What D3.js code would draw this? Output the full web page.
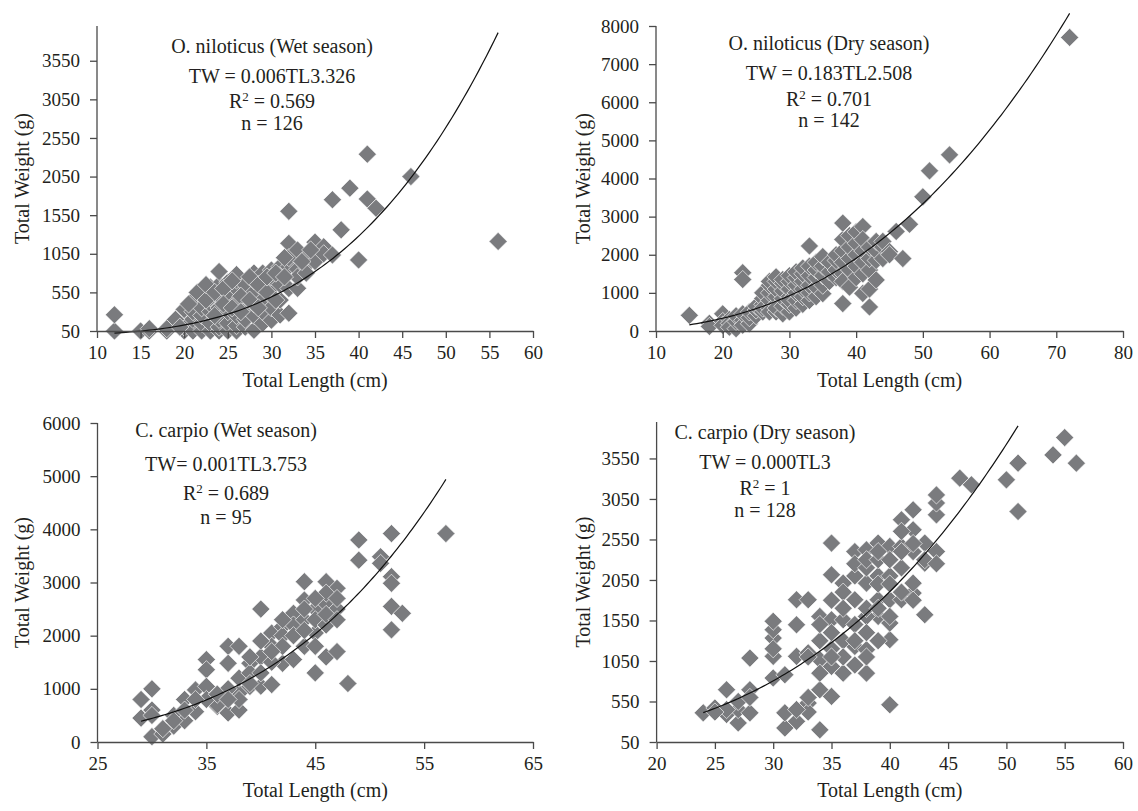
<!DOCTYPE html>
<html>
<head>
<meta charset="utf-8">
<script src="https://cdn.jsdelivr.net/npm/d3@7"></script>
<style>
  body { margin: 0; background: #fff; }
  text { font-family: "Liberation Serif", "Times New Roman", serif; fill: #231f20; }
</style>
</head>
<body>
<div id="chart"></div>
<script>
// Data: [total length (cm), total weight (g)]
var niloWet = [
  [12,50],[12,260],[15,50],[16,50],[16,80],[18,50],[18,80],
  [20,50],[20,150],[20,330],[20,100],
  [21,50],[21,200],[21,400],[21,450],[21,300],
  [22,50],[22,150],[22,250],[22,500],[22,580],[22,350],
  [23,50],[23,150],[23,300],[23,400],[23,480],[23,620],
  [24,50],[24,100],[24,200],[24,350],[24,500],[24,650],[24,820],
  [25,50],[25,150],[25,300],[25,450],[25,550],[25,680],
  [26,50],[26,120],[26,250],[26,400],[26,600],[26,710],[26,780],
  [27,100],[27,200],[27,350],[27,500],[27,650],
  [28,60],[28,250],[28,400],[28,550],[28,800],[28,700],
  [29,150],[29,300],[29,450],[29,650],[29,800],
  [30,190],[30,350],[30,600],[30,840],[30,750],
  [31,257],[31,450],[31,650],[31,884],
  [32,280],[32,600],[32,883],[32,1185],[32,1600],[32,1000],
  [33,603],[33,850],[33,1099],[33,750],
  [34,900],[34,1002],[34,800],
  [35,1200],[35,950],[36,1140],[36,1050],[37,1750],[37,1034],
  [38,1360],[39,1900],[40,970],[41,2340],[41,1760],[42,1640],
  [46,2050],[56,1210],
  [19,200],[19.5,100],[20.5,400],[21.5,550],[22.5,450],[22.5,650],
  [23.5,550],[23.5,250],[24.5,600],[24.5,400],[25.5,700],[25.5,350],
  [26.5,500],[26.5,300],[27.5,750],[27.5,450],[28.5,650],[28.5,350],
  [29.5,550],[29.5,750],[30.5,450],[30.5,800],[31.5,750],[33.5,950],
  [34.5,1100],[31.5,1000]
];

var niloDry = [
  [15,410],[18,200],[18,120],[20,450],[20,250],[20,150],
  [21,300],[21,200],[21,100],[22,60],[22,250],[22,400],
  [23,1530],[23,1350],[23,280],[23,150],[23,450],
  [24,190],[24,350],[24,500],[25,400],[25,550],[25,650],
  [26,500],[26,700],[26,850],[26,1000],[26,600],
  [27,600],[27,800],[27,1000],[27,1200],[27,500],[27,1300],
  [28,500],[28,700],[28,900],[28,1100],[28,1300],[28,1420],[28,600],
  [29,450],[29,650],[29,850],[29,1050],[29,1250],[29,1350],
  [30,500],[30,700],[30,900],[30,1100],[30,1300],[30,1450],[30,800],
  [31,600],[31,800],[31,1000],[31,1200],[31,1400],[31,1550],
  [32,700],[32,900],[32,1100],[32,1300],[32,1500],[32,1650],
  [33,800],[33,1000],[33,1200],[33,1450],[33,1700],[33,2230],
  [34,900],[34,1150],[34,1400],[34,1600],[34,1800],
  [35,980],[35,1200],[35,1450],[35,1700],[35,1950],
  [36,1300],[36,1550],[36,1800],
  [37,1400],[37,1600],[37,1850],[37,2000],
  [38,720],[38,1500],[38,1800],[38,2100],[38,2400],[38,2830],[38,1300],
  [39,1150],[39,1600],[39,1900],[39,2200],[39,2500],
  [40,1400],[40,1700],[40,2000],[40,2300],[40,2600],
  [41,985],[41,1500],[41,1800],[41,2100],[41,2740],[41,2400],
  [42,630],[42,1100],[42,1600],[42,1900],[42,2200],
  [43,1340],[43,1850],[43,2100],[43,2350],
  [44,1900],[44,2200],[44,2350],[45,2080],[45,2000],
  [46,2610],[47,1900],[48,2800],[50,3520],[51,4200],[54,4620],[72,7700]
];

var carpWet = [
  [29,800],[29,450],[30,1000],[30,600],[30,100],[31,150],[32,300],[32,500],
  [33,800],[33,400],[34,980],[34,570],[35,1550],[35,1360],[35,1045],[36,670],
  [37,1800],[37,1480],[37,545],[38,1800],[38,600],[38,920],[39,1480],[39,1045],
  [40,2500],[40,1050],[41,1080],[41,2050],[42,2170],[42,1480],[43,1550],[43,2420],
  [44,3015],[44,2670],[44,1800],[45,1300],[45,2050],[46,3015],[46,1600],
  [47,2890],[47,1700],[48,1100],[49,3800],[49,3420],[51,3485],[51,3360],
  [52,3920],[52,3110],[52,2985],[52,2550],[52,2110],[53,2420],[57,3920],
  [38,1200],[39,1300],[39,1100],[40,1600],[40,1300],[41,1800],[41,1500],
  [42,2000],[42,1800],[43,2200],[43,2000],[44,2300],[44,2100],[45,2500],
  [45,2300],[45,1800],[46,2600],[46,2200],[46,2800],[47,2500],[47,2700],
  [36,700],[37,1000],[38,800],[35,800],[34,800],[32,400],[31,250],[33,600],
  [36,900],[37,800],[30,500],[40,1900],[41,1700],[44,2500],[46,2400],
  [45,2700],[47,2300],[39,1600],[42,2300]
];

var carpDry = [
  [24,410],[25,470],[26,695],[26,390],[27,285],[27,450],[28,695],[28,1086],[28,410],
  [30,840],[30,1107],[30,1333],[30,1436],[30,1540],[31,880],[31,223],[31,410],
  [32,305],[32,1107],[32,1497],[32,1806],[33,1806],[33,530],[33,420],
  [34,200],[34,695],[34,1066],[34,1600],[35,2505],[35,2114],[35,613],[35,983],[35,1559],
  [36,900],[36,2011],[36,1559],[37,1230],[37,1806],[37,2400],
  [38,900],[38,1189],[38,2011],[38,2422],[39,1806],[39,2505],[39,1600],
  [40,510],[40,1313],[40,1518],[40,1806],[40,2464],
  [41,1806],[41,2793],[41,2464],[42,2916],[42,1888],[42,2011],[42,2669],
  [43,1621],[43,2258],[43,2505],[44,2400],[44,2854],[44,3000],[44,3100],
  [46,3307],[47,3225],[50,3286],[51,3492],[51,2895],[54,3594],[55,3808],[56,3492],
  [36,1900],[37,2100],[37,2250],[38,2200],[38,2300],[39,2100],[39,2300],[39,2400],
  [40,2100],[40,2300],[41,2200],[41,2650],[42,2400],[42,2500],[38,1600],[37,1500],
  [36,1300],[35,1200],[34,1300],[33,1150],[34,900],[35,1400],[36,1100],[37,1000],
  [38,1400],[39,1300],[33,1100],[35,1800],[36,1700],[38,1700],[39,2000],[40,2000],
  [41,2400],[43,2300],[27,550],[26,450],[25,420],[28,600],[32,450],[33,600],
  [30,1200],[34,1500],[35,1100],[37,1300],[38,1100],[41,1900],[42,1800],[40,1600],
  [44,2250],[39,1700]
];

// Tick values
var niloWetXTicks = [10, 15, 20, 25, 30, 35, 40, 45, 50, 55, 60];
var niloWetYTicks = [50, 550, 1050, 1550, 2050, 2550, 3050, 3550];
var niloDryXTicks = [10, 20, 30, 40, 50, 60, 70, 80];
var niloDryYTicks = [0, 1000, 2000, 3000, 4000, 5000, 6000, 7000, 8000];
var carpWetXTicks = [25, 35, 45, 55, 65];
var carpWetYTicks = [0, 1000, 2000, 3000, 4000, 5000, 6000];
var carpDryXTicks = [20, 25, 30, 35, 40, 45, 50, 55, 60];
var carpDryYTicks = [50, 550, 1050, 1550, 2050, 2550, 3050, 3550];

var svgWidth = 1138;
var svgHeight = 811;

var svg = d3.select("#chart")
  .append("svg")
  .attr("width", svgWidth)
  .attr("height", svgHeight);

var panels = [
  {
    data: niloWet, xTicks: niloWetXTicks, yTicks: niloWetYTicks,
    xDomain: [10, 60], xRange: [97, 533], yDomain: [50, 4000], yRange: [331, 26],
    fit: { a: 0.006, b: 3.326, from: 12, to: 56 },
    xLabelY: 387, yLabelX: 22,
    notes: ["O. niloticus (Wet season)", "TW = 0.006TL3.326", "0.569", "n = 126"],
    noteX: 272, noteY: [53, 83, 108, 130]
  },
  {
    data: niloDry, xTicks: niloDryXTicks, yTicks: niloDryYTicks,
    xDomain: [10, 80], xRange: [656, 1123], yDomain: [0, 8000], yRange: [331, 26],
    fit: { a: 0.183, b: 2.508, from: 15, to: 72 },
    xLabelY: 387, yLabelX: 583,
    notes: ["O. niloticus (Dry season)", "TW = 0.183TL2.508", "0.701", "n = 142"],
    noteX: 829, noteY: [50, 80, 106, 127]
  },
  {
    data: carpWet, xTicks: carpWetXTicks, yTicks: carpWetYTicks,
    xDomain: [25, 65], xRange: [97.5, 533], yDomain: [0, 6000], yRange: [742, 423],
    fit: { a: 0.00127, b: 3.753, from: 29, to: 57 },
    xLabelY: 797, yLabelX: 22,
    notes: ["C. carpio (Wet season)", "TW= 0.001TL3.753", "0.689", "n = 95"],
    noteX: 226, noteY: [437, 471, 500, 524]
  },
  {
    data: carpDry, xTicks: carpDryXTicks, yTicks: carpDryYTicks,
    xDomain: [20, 60], xRange: [656.6, 1123], yDomain: [50, 4000], yRange: [742, 422],
    fit: { a: 0.0298, b: 3, from: 24, to: 51 },
    xLabelY: 797, yLabelX: 583,
    notes: ["C. carpio (Dry season)", "TW = 0.000TL3", "1", "n = 128"],
    noteX: 765, noteY: [439, 469, 495, 517]
  }
];

var diamond = d3.symbol().type(d3.symbolSquare).size(165);
var serif = '"Liberation Serif", "Times New Roman", serif';

function drawPanel(p) {
  var x = d3.scaleLinear().domain(p.xDomain).range(p.xRange);
  var y = d3.scaleLinear().domain(p.yDomain).range(p.yRange);
  var g = svg.append("g");

  // points
  g.selectAll("path.pt")
    .data(p.data)
    .enter()
    .append("path")
    .attr("class", "pt")
    .attr("d", diamond)
    .attr("transform", d => `translate(${x(d[0])},${y(d[1])}) rotate(45)`)
    .attr("fill", "#7a7b7e")
    .attr("stroke", "#ffffff")
    .attr("stroke-width", 0.6);

  // power trend line
  var xs = d3.range(0, 101).map(i => p.fit.from + (p.fit.to - p.fit.from) * i / 100);
  var line = d3.line()
    .x(d => x(d))
    .y(d => y(p.fit.a * Math.pow(d, p.fit.b)));
  g.append("path")
    .datum(xs)
    .attr("d", line)
    .attr("fill", "none")
    .attr("stroke", "#111")
    .attr("stroke-width", 1.2);

  // axes
  var fmt = d3.format("d");
  var xAxis = g.append("g")
    .attr("transform", `translate(0,${p.yRange[0]})`)
    .call(d3.axisBottom(x).tickValues(p.xTicks).tickFormat(fmt)
      .tickSize(7).tickSizeOuter(0).tickPadding(8));
  var yAxis = g.append("g")
    .attr("transform", `translate(${p.xRange[0]},0)`)
    .call(d3.axisLeft(y).tickValues(p.yTicks).tickFormat(fmt)
      .tickSize(7).tickSizeOuter(0).tickPadding(10));

  [xAxis, yAxis].forEach(function(a) {
    a.attr("font-family", serif).attr("font-size", 19);
    a.selectAll("path.domain").attr("stroke", "#4a4a4a").attr("stroke-width", 1.3);
    a.selectAll(".tick line").attr("stroke", "#4a4a4a").attr("stroke-width", 1.3);
    a.selectAll(".tick text")
      .style("font-family", serif)
      .style("font-size", "19px")
      .attr("fill", "#231f20");
  });
  // y domain stops at the top of the value range
  yAxis.select("path.domain")
    .attr("d", `M0,${p.yRange[0]}V${y(p.yDomain[1])}`);

  // axis titles
  g.append("text")
    .attr("x", (p.xRange[0] + p.xRange[1]) / 2)
    .attr("y", p.xLabelY)
    .attr("text-anchor", "middle")
    .style("font-size", "20px")
    .text("Total Length (cm)");

  var midY = (p.yRange[0] + p.yRange[1]) / 2;
  g.append("text")
    .attr("transform", `translate(${p.yLabelX},${midY}) rotate(-90)`)
    .attr("dy", "0.35em")
    .attr("text-anchor", "middle")
    .style("font-size", "20px")
    .text("Total Weight (g)");

  // annotation block
  g.append("text").attr("x", p.noteX).attr("y", p.noteY[0])
    .attr("text-anchor", "middle").style("font-size", "20px").text(p.notes[0]);
  g.append("text").attr("x", p.noteX).attr("y", p.noteY[1])
    .attr("text-anchor", "middle").style("font-size", "20px").text(p.notes[1]);
  var r2 = g.append("text").attr("x", p.noteX).attr("y", p.noteY[2])
    .attr("text-anchor", "middle").style("font-size", "20px");
  r2.append("tspan").text("R");
  r2.append("tspan").attr("baseline-shift", "super").style("font-size", "13px").text("2");
  r2.append("tspan").text(" = " + p.notes[2]);
  g.append("text").attr("x", p.noteX).attr("y", p.noteY[3])
    .attr("text-anchor", "middle").style("font-size", "20px").text(p.notes[3]);
}

panels.forEach(drawPanel);
</script>
</body>
</html>
